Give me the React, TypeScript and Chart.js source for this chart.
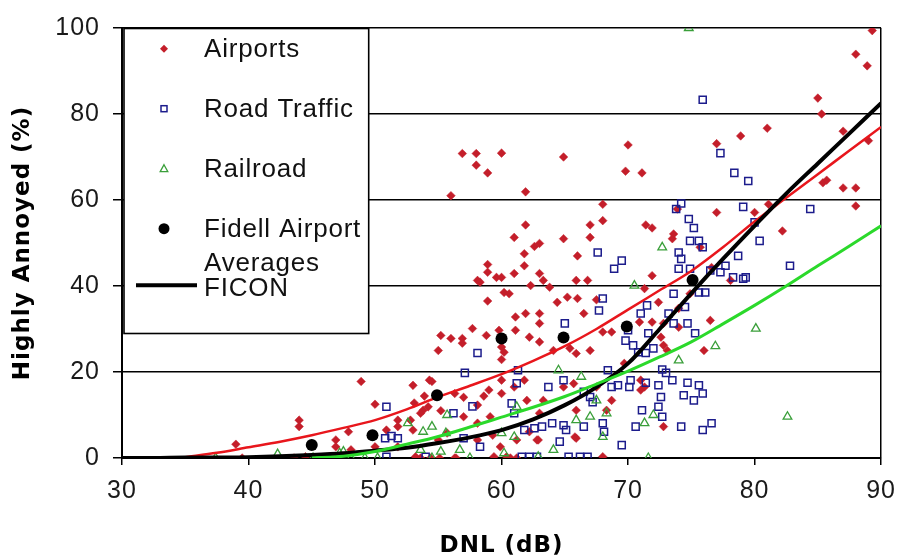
import React, { useEffect, useRef } from "react";
import { Chart, registerables } from "chart.js";

Chart.register(...registerables);

// Survey results: [DNL (dB), highly annoyed (%)]
const airports: [number, number][] = [
  [89.3, 99.4], [88, 93.9], [88.9, 91.2], [85, 83.7], [85.3, 80], [81, 76.7], [78.9, 74.9], [77, 73.1],
  [70, 72.8], [69.8, 66.7], [71.1, 66.3], [56.9, 70.8], [58, 70.8], [60, 70.9], [58, 68.1], [58.9, 66.3],
  [56, 61], [61.9, 61.9], [64.9, 70], [61.9, 54.2], [61, 51.3], [64.9, 51], [67, 54.2], [67, 51.3],
  [62.6, 49.2], [63, 49.9], [68, 59], [68, 55.2], [73.9, 57.9], [77, 57.1], [80, 57.1], [81.1, 59],
  [82.2, 52.8], [71.4, 54.2], [71.9, 53.5], [73.6, 52.1], [73.5, 51], [85.4, 64], [85.7, 64.6], [87, 62.8],
  [88, 62.8], [88, 58.6], [87, 76], [89, 73.8], [75.7, 49],
  [58.9, 45], [58.9, 43.2], [58.1, 41.3], [58.3, 40.9], [59.6, 42], [58.9, 36.5], [60.2, 38.5], [55.2, 28.5],
  [56, 27.8], [56.9, 27.8], [56.9, 26.7], [57.7, 30.1], [58.8, 28.5], [59.8, 29.7], [55, 25], [60, 22.9],
  [60, 25.8], [61.8, 47.5], [66, 47], [60, 42], [61.8, 44.7], [61, 42.9], [63, 42.9], [62.3, 40.1],
  [63.3, 41.3], [63.8, 39.7], [65.9, 41.3], [66.8, 41.3], [60.6, 38.2], [64.4, 36.2], [65.2, 37.4], [66, 37.1],
  [67.5, 36.8], [66.5, 33.6], [63, 33.6], [61.1, 32.8], [61.9, 33.6], [63, 31.3], [61.1, 29.7], [62.2, 28.1],
  [63, 27], [60.2, 24.6], [64.1, 25], [65.4, 25.5], [65.9, 24.3], [67, 25], [68, 29.3], [68.7, 29.3],
  [71.9, 42.4], [76.6, 44.3], [78.1, 41.3], [71.3, 39.4], [72.4, 36.2], [74, 34.8], [74.9, 38.2], [70.9, 31.6],
  [71.9, 31.6], [72.8, 31.3], [74, 30.4], [76.5, 32], [72.6, 28.1], [72.8, 26.2], [73.1, 25], [76, 25],
  [69.7, 22],
  [48.9, 17.8], [53, 16.9], [54.5, 17.8], [53.9, 14.4], [50, 12.5], [53.1, 12.8], [53.8, 11.1], [55.2, 11],
  [51.8, 8.8], [53, 6.5], [56.3, 15], [57, 14.1], [58.6, 14.4], [58.1, 12.3], [59, 15.8], [59.1, 9.6],
  [57, 9.6], [60, 15], [53.2, 0.3], [55.1, 0], [56.4, 0], [59.4, 0.3], [55.7, 5.8], [55, 4.2],
  [58.1, 4.2], [59.9, 2.6], [60, 18.1], [61, 16.5], [61.8, 18.1], [62, 13.4], [63.3, 13.4], [64.9, 16.5],
  [65.7, 17.3], [65.9, 11.1], [67.5, 16.5], [68.7, 13.4], [68.3, 11.1], [65.8, 4.9], [62.8, 4.2], [61.2, 4.2],
  [60.4, 0.3], [62.2, 6.1], [68, 0.3], [63, 10.4], [71, 18.1], [71.3, 16.5], [71, 15.8], [72.8, 7.3],
  [44, 8.8], [44, 7.3], [39, 3.2], [39.5, 0], [43.6, 0], [44.5, 0.3], [46.1, 0], [46.9, 4.2],
  [46.9, 2.6], [47.9, 6.1], [48.1, 1.9], [50, 2.6], [50.9, 6.5], [51.8, 7.3], [52.8, 8.8], [53.6, 10.4],
  [54.2, 11.9], [54.3, 18.1], [51.8, 2.6], [53.6, 0], [54.4, 0], [56.3, 0], [58.1, 8.1], [59.3, 5.3],
  [60.7, 0], [61.2, 0], [62.9, 4.2], [65.9, 4.6],
];

const roadTraffic: [number, number][] = [
  [75.9, 83.3], [77.3, 70.9], [78.4, 66.3], [79.5, 64.4], [84.4, 57.9], [80, 54.8], [80.4, 50.5], [82.8, 44.7],
  [79.3, 42], [74.2, 59.2], [73.8, 57.9], [74.8, 55.6], [75.2, 53.5], [79.1, 58.4], [74.9, 50.5], [75.6, 50.5],
  [75.9, 49], [74, 47.8], [74.2, 46.3], [74, 44], [74.9, 44], [78.7, 47], [76.5, 43.6], [77.7, 44.7],
  [77.3, 43.2], [78.3, 42], [79.1, 41.7], [69.5, 45.9], [73.6, 38.2], [75.6, 38.5], [76.1, 38.5], [74.5, 35.1],
  [71.5, 35.5], [71, 33.6], [73.2, 33.6], [73.6, 31.3], [71.6, 29], [74.7, 31.3], [75.3, 29], [70, 29.7],
  [70.4, 26.2], [70.8, 24.6], [71.4, 24.4], [72, 25.5], [69.8, 27.3], [72.7, 20.6], [73, 19.8], [73.5, 18.1],
  [74.7, 17.5], [75.6, 16.9], [70.2, 18.1], [70.1, 16.5], [71.4, 17.5], [72.4, 16.9], [72.6, 14.2], [74.4, 14.6],
  [75.2, 13.4], [75.9, 15], [72.4, 11.9], [72.7, 9.6], [71.1, 11.1], [70.6, 7.3], [74.2, 7.3], [75.9, 6.5],
  [76.6, 8.1], [69.5, 3], [67.6, 47.8], [68.9, 44], [68, 37.1], [65, 31.3], [67.7, 34.3], [61.3, 20.4],
  [61.2, 17.4], [63.7, 16.5], [64.9, 18.1], [68.4, 20.4], [68.7, 16.5], [69.2, 16.9], [66.5, 15.4], [67, 14.2],
  [67.2, 13], [60.8, 12.7], [61.8, 6.5], [62.6, 6.9], [63.2, 7.3], [64, 8.1], [64.9, 7.6], [65.1, 6.5],
  [64.6, 3.8], [66.5, 7.3], [68, 8.1], [68.1, 6.1], [61.6, 0.3], [62.2, 0.3], [62.8, 0.3], [65.3, 0.3],
  [66.2, 0.3], [66.8, 0.3], [50.9, 11.9], [58.1, 24.4], [57.1, 19.8], [57.7, 12], [56.2, 10.4], [50.8, 4.6],
  [51.3, 5.1], [51.8, 4.6], [58.3, 2.6], [50.9, 0.3], [57, 4.6], [54, 0.3], [61, 10.4],
];

const railroad: [number, number][] = [
  [74.8, 100], [72.7, 49], [70.5, 40.1], [80.1, 30.1], [76.9, 26], [74, 22.7], [72, 10], [71.3, 8.1],
  [71.6, 0], [82.6, 9.6], [64.5, 20.4], [66.3, 18.9], [67, 9.6], [65.9, 8.8], [67.5, 13.4], [68.3, 10.4],
  [68, 4.9], [64.1, 1.9], [62.9, 0.3], [61, 4.9], [61.2, 11.9], [60, 5.8], [52.6, 8.1], [53.8, 6.1],
  [55.7, 10], [54.5, 7.3], [55.6, 5.8], [48.1, 0], [49.2, 0], [56.7, 1.9], [57.5, 0], [60.2, 1.1],
  [55.2, 1.5], [53.6, 1.9], [37.4, 0], [42.3, 0.9], [45.1, 0], [47.2, 1.1], [50.2, 0], [47.5, 1.5],
  [54.5, 0],
];

const fidellAverages: [number, number][] = [
  [45, 3], [49.8, 5.3], [54.9, 14.6], [60, 27.8], [64.9, 28], [69.9, 30.6], [75.1, 41.4],
];

// Fitted curves sampled every 2.5 dB (null = not drawn)
const fitDnl = [30, 32.5, 35, 37.5, 40, 42.5, 45, 47.5, 50, 52.5, 55, 57.5, 60, 62.5, 65, 67.5, 70, 72.5, 75, 77.5, 80, 82.5, 85, 87.5, 90];
const airportFit = [null, null, 0.2, 1.2, 2.5, 3.8, 5.3, 7, 8.8, 11.3, 14.2, 16.8, 19.5, 22.6, 26, 30, 34.5, 39, 43.5, 49, 55, 60.5, 66, 71.5, 77];
const ficonCurve = [0, 0, 0.1, 0.1, 0.2, 0.4, 0.7, 1.1, 1.7, 2.4, 3.5, 4.8, 6.5, 9, 12.3, 16.5, 22, 30, 38.3, 46.3, 54, 61.5, 68.5, 75.5, 82.5];
const railroadFit = [null, null, null, null, null, null, 0, 0.4, 1.5, 3.2, 5, 7.2, 9.5, 11.8, 14.3, 17.2, 20.2, 23.5, 27, 31.2, 35.5, 40, 44.7, 49.3, 54];

const dnlTickStep = 10;
const haTickStep = 20;

const legendLabels = ["Airports", "Road Traffic", "Railroad", "Fidell Airport", "Averages", "FICON"];

const toXY = (pts: [number, number][]) => pts.map(([x, y]) => ({ x, y }));
const curveXY = (vals: (number | null)[]) =>
  fitDnl.map((x, i) => ({ x, y: vals[i] })).filter((p) => p.y !== null) as { x: number; y: number }[];

const AIRPORT_RED = "#C41E2A";
const ROAD_BLUE = "#1C1C8C";
const RAIL_GREEN = "#3A9F3A";
const FIT_RED = "#E8161C";
const FIT_GREEN = "#2BD92B";

const TICK_FONT = { family: '"Liberation Sans", Arial, sans-serif', size: 25 };
const TITLE_FONT = { family: '"DejaVu Sans", Verdana, sans-serif', size: 23, weight: "bold" as const };

const textSpacing = {
  id: "textSpacing",
  beforeDraw(chart: any) {
    (chart.ctx as any).letterSpacing = "1px";
  },
};

const insetLegend = {
  id: "insetLegend",
  afterDraw(chart: any) {
    const { ctx, chartArea: a } = chart;
    const L = a.left + 2;
    const T = a.top + 0.5;
    const W = 244.7;
    const H = 305;
    ctx.save();
    ctx.fillStyle = "#fff";
    ctx.fillRect(L, T, W, H);
    ctx.strokeStyle = "#000";
    ctx.lineWidth = 1.6;
    ctx.strokeRect(L, T, W, H);

    const mx = a.left + 42;
    const rows = [a.top + 20.7, a.top + 80.7, a.top + 140.7, a.top + 200.7];

    // diamond
    ctx.fillStyle = AIRPORT_RED;
    ctx.beginPath();
    ctx.moveTo(mx, rows[0] - 4);
    ctx.lineTo(mx + 4, rows[0]);
    ctx.lineTo(mx, rows[0] + 4);
    ctx.lineTo(mx - 4, rows[0]);
    ctx.closePath();
    ctx.fill();

    // hollow square
    ctx.strokeStyle = ROAD_BLUE;
    ctx.lineWidth = 1.5;
    ctx.strokeRect(mx - 3, rows[1] - 3, 6, 6);

    // hollow triangle
    ctx.strokeStyle = RAIL_GREEN;
    ctx.lineWidth = 1.3;
    ctx.beginPath();
    ctx.moveTo(mx, rows[2] - 4);
    ctx.lineTo(mx + 3.8, rows[2] + 3);
    ctx.lineTo(mx - 3.8, rows[2] + 3);
    ctx.closePath();
    ctx.stroke();

    // filled circle
    ctx.fillStyle = "#000";
    ctx.beginPath();
    ctx.arc(mx, rows[3], 5.5, 0, Math.PI * 2);
    ctx.fill();

    // FICON line
    ctx.strokeStyle = "#000";
    ctx.lineWidth = 4;
    ctx.beginPath();
    ctx.moveTo(a.left + 14, a.top + 257.3);
    ctx.lineTo(a.left + 75, a.top + 257.3);
    ctx.stroke();

    ctx.fillStyle = "#111";
    ctx.font = '26px "Liberation Sans", Arial, sans-serif';
    ctx.letterSpacing = "0.8px";
    ctx.textAlign = "left";
    ctx.textBaseline = "alphabetic";
    const tx = a.left + 82;
    const baselines = [29, 89, 149, 209, 243, 268];
    legendLabels.forEach((t, i) => ctx.fillText(t, tx, a.top + baselines[i]));
    ctx.restore();
  },
};

export default function App() {
  const canvasRef = useRef<HTMLCanvasElement | null>(null);

  useEffect(() => {
    if (!canvasRef.current) return;
    const chart = new Chart(canvasRef.current, {
      type: "scatter",
      data: {
        datasets: [
          {
            label: "Fidell Airport Averages",
            data: toXY(fidellAverages),
            pointStyle: "circle",
            pointRadius: 6,
            pointBackgroundColor: "#000",
            pointBorderColor: "#000",
            pointBorderWidth: 0,
          },
          {
            label: "Railroad fit",
            data: curveXY(railroadFit),
            showLine: true,
            borderColor: FIT_GREEN,
            borderWidth: 3,
            pointRadius: 0,
            cubicInterpolationMode: "monotone",
          },
          {
            label: "FICON",
            data: curveXY(ficonCurve),
            showLine: true,
            borderColor: "#000",
            borderWidth: 4,
            pointRadius: 0,
            cubicInterpolationMode: "monotone",
          },
          {
            label: "Airports fit",
            data: curveXY(airportFit),
            showLine: true,
            borderColor: FIT_RED,
            borderWidth: 2.5,
            pointRadius: 0,
            cubicInterpolationMode: "monotone",
          },
          {
            label: "Railroad",
            data: toXY(railroad),
            pointStyle: "triangle",
            pointRadius: 5,
            pointBackgroundColor: "rgba(255,255,255,0)",
            pointBorderColor: RAIL_GREEN,
            pointBorderWidth: 1.3,
          },
          {
            label: "Road Traffic",
            data: toXY(roadTraffic),
            pointStyle: "rect",
            pointRadius: 5,
            pointBackgroundColor: "rgba(255,255,255,0)",
            pointBorderColor: ROAD_BLUE,
            pointBorderWidth: 1.5,
          },
          {
            label: "Airports",
            data: toXY(airports),
            pointStyle: "rectRot",
            pointRadius: 4.3,
            pointBackgroundColor: AIRPORT_RED,
            pointBorderColor: AIRPORT_RED,
            pointBorderWidth: 0.5,
          },
        ],
      },
      options: {
        responsive: false,
        animation: false,
        layout: { padding: { left: 0, top: 26, right: 19, bottom: 0 } },
        plugins: {
          legend: { display: false },
          tooltip: { enabled: false },
        },
        scales: {
          x: {
            type: "linear",
            min: 30,
            max: 90,
            afterFit: (s: any) => {
              s.height = 101;
            },
            ticks: {
              stepSize: dnlTickStep,
              padding: 11,
              maxRotation: 0,
              color: "#1a1a1a",
              font: TICK_FONT,
            },
            grid: {
              color: (c: any) => (c.tick && c.tick.value === 90 ? "#000" : "rgba(0,0,0,0)"),
              lineWidth: 1.5,
              tickLength: 7,
              tickColor: "#000",
              tickWidth: 1.5,
            },
            border: { color: "#000", width: 2 },
            title: {
              display: true,
              text: "DNL (dB)",
              color: "#000",
              font: { ...TITLE_FONT, lineHeight: 1 },
              padding: { top: 0, bottom: 1 },
            },
          },
          y: {
            type: "linear",
            min: 0,
            max: 100,
            afterFit: (s: any) => {
              s.width = 122;
            },
            ticks: {
              stepSize: haTickStep,
              padding: 13,
              color: "#1a1a1a",
              font: TICK_FONT,
            },
            grid: {
              color: "#000",
              lineWidth: 1.5,
              tickLength: 9,
              tickColor: "#000",
              tickWidth: 1.5,
            },
            border: { color: "#000", width: 2 },
            title: {
              display: true,
              text: "Highly Annoyed (%)",
              color: "#000",
              font: TITLE_FONT,
              padding: { top: 9, bottom: 0 },
            },
          },
        },
      },
      plugins: [textSpacing, insetLegend],
    } as any);
    return () => chart.destroy();
  }, []);

  return (
    <div style={{ position: "absolute", left: 0, top: 0, width: 906, height: 559, background: "#fff" }}>
      <canvas ref={canvasRef} width={906} height={559} />
    </div>
  );
}
